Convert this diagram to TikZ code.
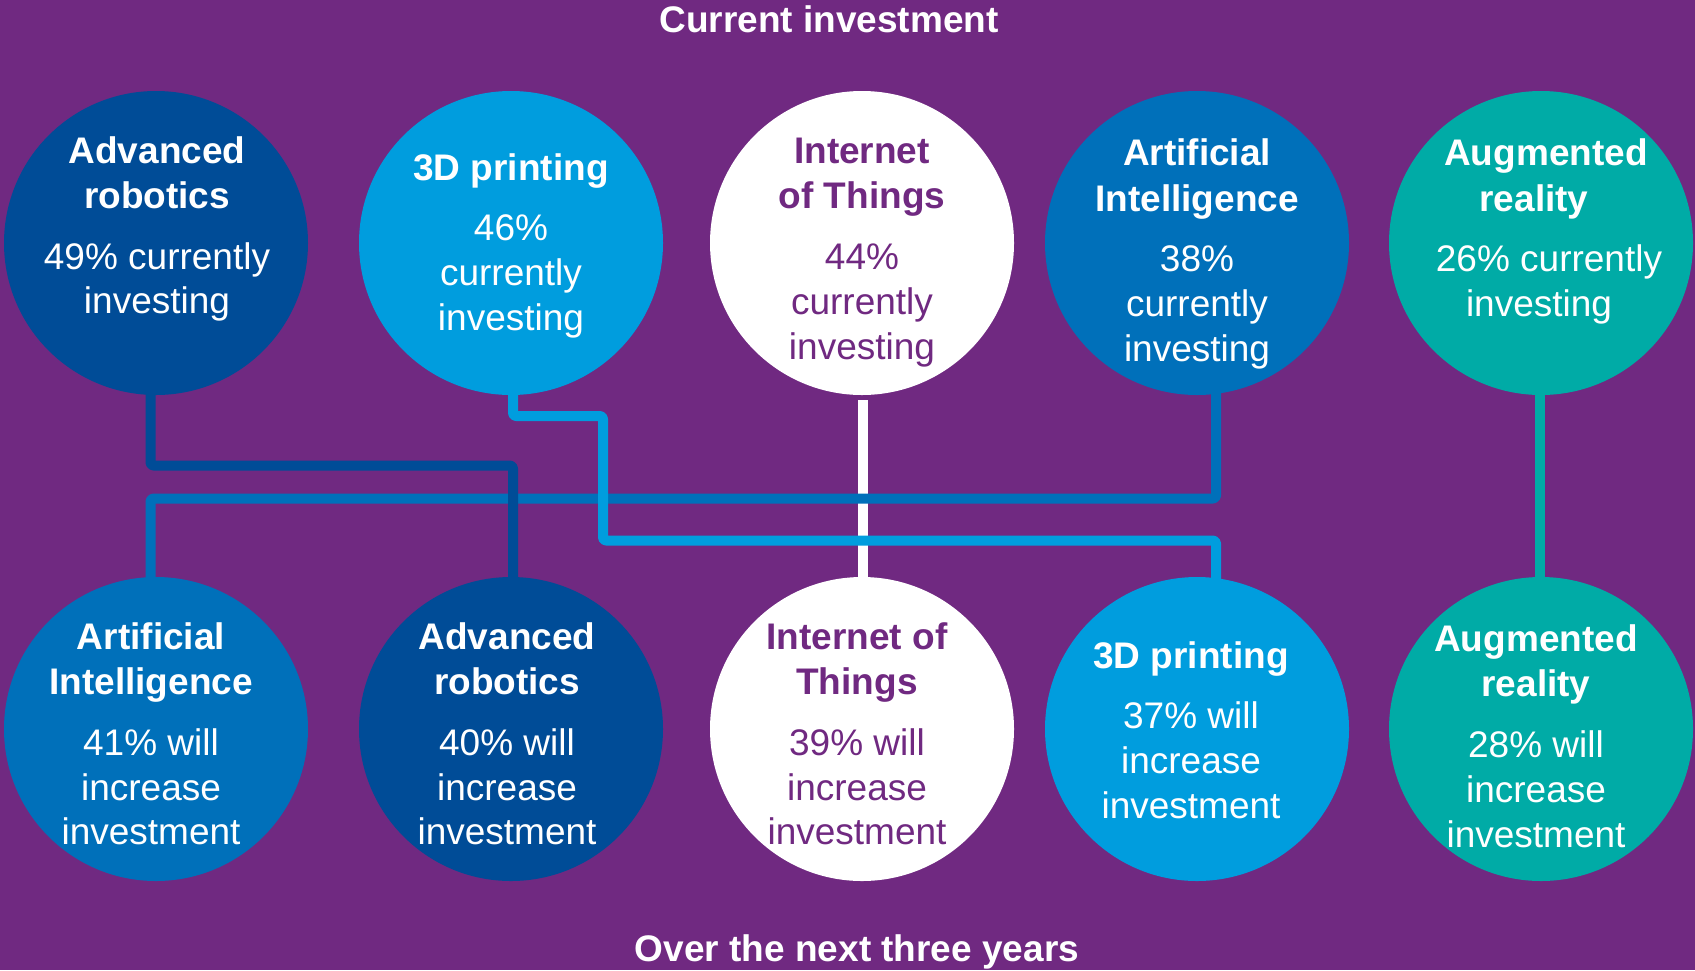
\documentclass[tikz,border=0pt]{standalone}
\usepackage{fontspec}
\setmainfont{Liberation Sans}
\definecolor{bgpurple}{RGB}{112,41,129}
\definecolor{roboblue}{RGB}{0,76,151}
\definecolor{aiblue}{RGB}{0,112,186}
\definecolor{printblue}{RGB}{0,157,222}
\definecolor{arteal}{RGB}{0,171,166}
\newcommand\myfs{\fontsize{18.5pt}{22pt}\selectfont}
\pgfdeclarelayer{bg}
\pgfsetlayers{bg,main}
\tikzset{
  bub/.style={circle, minimum size=152pt, inner sep=0pt, draw=none, fill=#1},
  conn/.style={line width=5pt, rounded corners=1.5pt, line join=round},
  hd/.style={font=\myfs\bfseries, anchor=base, inner sep=0pt, text=white},
  bd/.style={font=\myfs, anchor=base, inner sep=0pt, text=white},
  pur/.style={text=bgpurple}
}
\begin{document}
\begin{tikzpicture}[x=0.5pt,y=-0.5pt]
\useasboundingbox (0,0) rectangle (1695,970);

% circles
\node[bub=roboblue]  (t1) at (156,243) {};
\node[bub=printblue] (t2) at (511,243) {};
\node[bub=white]     (t3) at (862,243) {};
\node[bub=aiblue]    (t4) at (1197,243) {};
\node[bub=arteal]    (t5) at (1541,243) {};
\node[bub=aiblue]    (b1) at (156,729) {};
\node[bub=roboblue]  (b2) at (511,729) {};
\node[bub=white]     (b3) at (862,729) {};
\node[bub=printblue] (b4) at (1197,729) {};
\node[bub=arteal]    (b5) at (1541,729) {};

\begin{pgfonlayer}{bg}
\fill[bgpurple] (0,0) rectangle (1695,970);
\draw[conn, white] ([xshift=0.5pt,yshift=-2.5pt]t3.south) -- ([xshift=0.5pt]b3.north);
\draw[conn, aiblue] ([xshift=9.5pt]t4.center) |- (150.5,498.5) -- ([xshift=-2.75pt]b1.center);
\draw[conn, roboblue] ([xshift=-2.75pt]t1.center) |- (513,465.5) -- ([xshift=1pt]b2.center);
\draw[conn, printblue] ([xshift=1pt]t2.center) |- (603,416) |- (1216,540.5) -- ([xshift=9.5pt]b4.center);
\draw[conn, arteal] ([xshift=-0.5pt]t5.center) -- ([xshift=-0.5pt]b5.center);
\end{pgfonlayer}

% titles
\node[hd] (title1) at (829,32) {Current investment};
\node[hd] (title2) at (857,961) {Over the next three years};

% top row texts
\node[hd] (t1a) at (157,163) {Advanced};
\node[hd] (t1b) at (157,208) {robotics};
\node[bd] (t1c) at (157,269) {49\% currently};
\node[bd] (t1d) at (157,313) {investing};

\node[hd] (t2a) at (511,180) {3D printing};
\node[bd] (t2b) at (511,240) {46\%};
\node[bd] (t2c) at (511,285) {currently};
\node[bd] (t2d) at (511,330) {investing};

\node[hd,pur] (t3a) at (862,163) {Internet};
\node[hd,pur] (t3b) at (862,208) {of Things};
\node[bd,pur] (t3c) at (862,269) {44\%};
\node[bd,pur] (t3d) at (862,314) {currently};
\node[bd,pur] (t3e) at (862,359) {investing};

\node[hd] (t4a) at (1197,165) {Artificial};
\node[hd] (t4b) at (1197,211) {Intelligence};
\node[bd] (t4c) at (1197,271) {38\%};
\node[bd] (t4d) at (1197,316) {currently};
\node[bd] (t4e) at (1197,361) {investing};

\node[hd] (t5a) at (1546,165) {Augmented};
\node[hd] (t5b) at (1534,211) {reality};
\node[bd] (t5c) at (1549,271) {26\% currently};
\node[bd] (t5d) at (1539,316) {investing};

% bottom row texts
\node[hd] (b1a) at (151,649) {Artificial};
\node[hd] (b1b) at (151,694) {Intelligence};
\node[bd] (b1c) at (151,755) {41\% will};
\node[bd] (b1d) at (151,800) {increase};
\node[bd] (b1e) at (151,844) {investment};

\node[hd] (b2a) at (507,649) {Advanced};
\node[hd] (b2b) at (507,694) {robotics};
\node[bd] (b2c) at (507,755) {40\% will};
\node[bd] (b2d) at (507,800) {increase};
\node[bd] (b2e) at (507,844) {investment};

\node[hd,pur] (b3a) at (857,649) {Internet of};
\node[hd,pur] (b3b) at (857,694) {Things};
\node[bd,pur] (b3c) at (857,755) {39\% will};
\node[bd,pur] (b3d) at (857,800) {increase};
\node[bd,pur] (b3e) at (857,844) {investment};

\node[hd] (b4a) at (1191,668) {3D printing};
\node[bd] (b4b) at (1191,728) {37\% will};
\node[bd] (b4c) at (1191,773) {increase};
\node[bd] (b4d) at (1191,818) {investment};

\node[hd] (b5a) at (1536,651) {Augmented};
\node[hd] (b5b) at (1536,696) {reality};
\node[bd] (b5c) at (1536,757) {28\% will};
\node[bd] (b5d) at (1536,802) {increase};
\node[bd] (b5e) at (1536,847) {investment};
\end{tikzpicture}
\end{document}
